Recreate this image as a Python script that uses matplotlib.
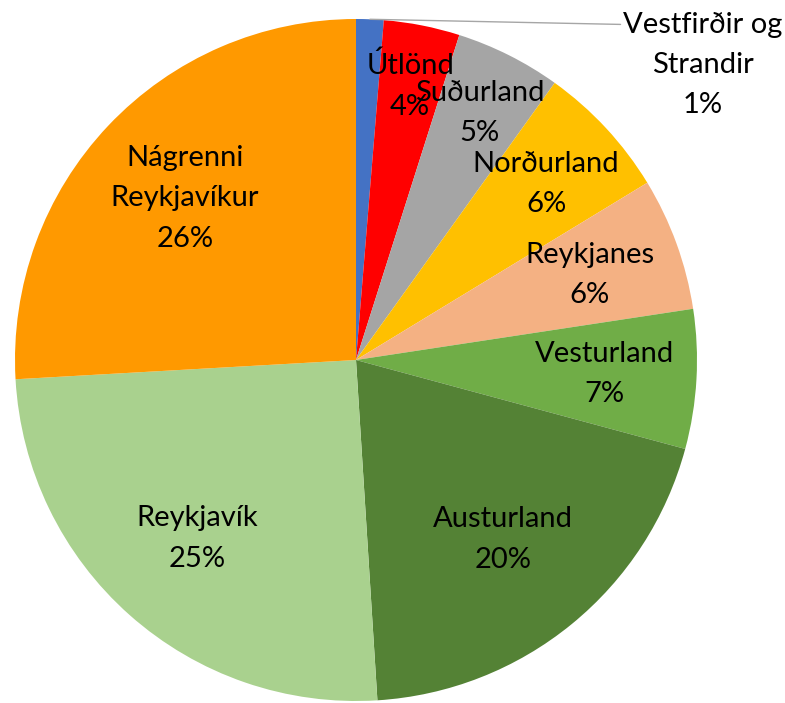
import numpy as np
import matplotlib.pyplot as plt

# Shares (%), clockwise from 12 o'clock
regions = ["Vestfirðir og\nStrandir", "Útlönd", "Suðurland", "Norðurland", "Reykjanes",
           "Vesturland", "Austurland", "Reykjavík", "Nágrenni\nReykjavíkur"]
shares = [1.3, 3.6, 5.0, 6.4, 6.3, 6.6, 19.8, 25.1, 25.9]
colors = ["#4472C4", "#FF0000", "#A5A5A5", "#FFC000", "#F4B183",
          "#70AD47", "#548235", "#A9D18E", "#FF9900"]
# how far out each label sits (fraction of radius)
label_dist = [None, 0.82, 0.81, 0.76, 0.73, 0.73, 0.68, 0.70, 0.69]

plt.rcParams['font.family'] = ['Lato', 'DejaVu Sans']

fig = plt.figure(figsize=(7.85, 7.03), dpi=100)
ax = fig.add_axes([0, 0, 1, 1])

cx, cy, R = 356, 343, 341
wedges, _ = ax.pie(shares, colors=colors, startangle=90, counterclock=False,
                   center=(cx, cy), radius=R, wedgeprops=dict(linewidth=0))
ax.set_xlim(0, 785)
ax.set_ylim(0, 703)
ax.set_axis_off()

for w, name, v, d in zip(wedges, regions, shares, label_dist):
    mid = np.deg2rad((w.theta1 + w.theta2) / 2)
    txt = f"{name}\n{v:.0f}%"
    if d is None:
        # small slice: label outside with a leader line
        x0, y0 = cx + R * np.cos(mid), cy + R * np.sin(mid)
        ax.annotate(txt, xy=(x0, y0), xytext=(703, 638), ha='center', va='center',
                    fontsize=21, linespacing=1.68,
                    arrowprops=dict(arrowstyle='-', color='#A6A6A6', lw=1,
                                    shrinkA=0, shrinkB=0,
                                    relpos=(0.0, 0.88)))
        continue
    ax.text(cx + d * R * np.cos(mid), cy + d * R * np.sin(mid), txt,
            ha='center', va='center', fontsize=21, linespacing=1.68)

fig.savefig("out.png", dpi=100)
